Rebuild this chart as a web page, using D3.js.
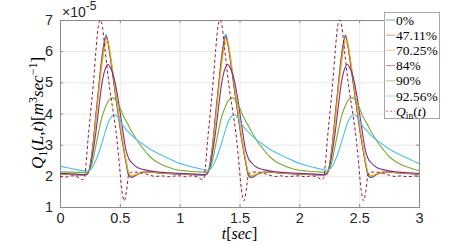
<!DOCTYPE html>
<html>
<head>
<meta charset="utf-8">
<script src="https://cdn.jsdelivr.net/npm/d3@7"></script>
<style>
  body { margin: 0; background: #fff; }
  svg { display: block; }
</style>
</head>
<body>
<div id="chart"></div>
<script>
// flow values are in units of 1e-5 m^3/s (the axis multiplier)
// time points shared by the six solid curves
var tSolid = [0,0.05,0.1,0.15,0.2,0.225,0.25,0.275,0.3,0.325,0.35,0.385,0.4,0.42,0.44,0.46,0.48,0.5,0.525,0.55,0.575,0.6,0.65,0.7,0.75,0.8,0.85,0.9,0.95,
  1,1.05,1.1,1.15,1.2,1.225,1.25,1.275,1.3,1.325,1.35,1.385,1.4,1.42,1.44,1.46,1.48,1.5,1.525,1.55,1.575,1.6,1.65,1.7,1.75,1.8,1.85,1.9,1.95,
  2,2.05,2.1,2.15,2.2,2.225,2.25,2.275,2.3,2.325,2.35,2.385,2.4,2.42,2.44,2.46,2.48,2.5,2.525,2.55,2.575,2.6,2.65,2.7,2.75,2.8,2.85,2.9,2.95,
  3];

var q0 = [2.06,2.05,2.04,2.03,2.03,2.04,2.3,3.0,3.96,4.9,5.8,6.52,6.3,5.8,5.25,4.7,4.15,3.6,3.0,2.45,2.0,1.95,2.05,2.12,2.12,2.1,2.08,2.07,2.06,
  2.05,2.05,2.04,2.03,2.03,2.04,2.3,3.0,3.96,4.9,5.8,6.53,6.3,5.8,5.25,4.7,4.15,3.6,3.0,2.45,2.0,1.94,2.05,2.12,2.12,2.1,2.08,2.07,2.06,
  2.05,2.05,2.04,2.03,2.03,2.04,2.3,3.0,3.96,4.9,5.8,6.52,6.3,5.8,5.25,4.7,4.15,3.6,3.0,2.45,2.0,1.94,2.05,2.12,2.12,2.1,2.08,2.07,2.06,
  2.05];

var q47 = [2.07,2.06,2.05,2.04,2.04,2.05,2.28,2.95,3.9,4.85,5.72,6.45,6.3,5.85,5.3,4.75,4.2,3.65,3.05,2.5,2.05,1.97,2.06,2.12,2.13,2.11,2.09,2.08,2.07,
  2.06,2.06,2.05,2.04,2.04,2.05,2.28,2.95,3.9,4.85,5.72,6.45,6.3,5.85,5.3,4.75,4.2,3.65,3.05,2.5,2.05,1.96,2.06,2.12,2.13,2.11,2.09,2.08,2.07,
  2.06,2.06,2.05,2.04,2.04,2.05,2.28,2.95,3.9,4.85,5.72,6.45,6.3,5.85,5.3,4.75,4.2,3.65,3.05,2.5,2.05,1.96,2.06,2.12,2.13,2.11,2.09,2.08,2.07,
  2.06];

var q70 = [2.07,2.06,2.05,2.05,2.04,2.05,2.25,2.85,3.75,4.7,5.55,6.3,6.33,5.95,5.4,4.85,4.3,3.75,3.12,2.55,2.1,2.0,2.07,2.12,2.13,2.11,2.09,2.08,2.07,
  2.07,2.06,2.05,2.05,2.04,2.05,2.25,2.85,3.75,4.7,5.55,6.3,6.33,5.95,5.4,4.85,4.3,3.75,3.12,2.55,2.1,2.0,2.07,2.12,2.13,2.11,2.09,2.08,2.07,
  2.07,2.06,2.05,2.05,2.04,2.05,2.25,2.85,3.75,4.7,5.55,6.3,6.33,5.95,5.4,4.85,4.3,3.75,3.12,2.55,2.1,2.0,2.07,2.12,2.13,2.11,2.09,2.08,2.07,
  2.07];

var q84 = [2.08,2.07,2.06,2.05,2.04,2.06,2.25,2.75,3.4,4.2,4.95,5.5,5.58,5.48,5.3,5.0,4.6,4.1,3.45,2.85,2.55,2.42,2.26,2.2,2.16,2.13,2.11,2.1,2.09,
  2.08,2.07,2.06,2.05,2.04,2.06,2.25,2.75,3.4,4.2,4.95,5.5,5.58,5.48,5.3,5.0,4.6,4.1,3.45,2.85,2.55,2.42,2.26,2.2,2.16,2.13,2.11,2.1,2.09,
  2.08,2.07,2.06,2.05,2.04,2.06,2.25,2.75,3.4,4.2,4.95,5.5,5.58,5.48,5.3,5.0,4.6,4.1,3.45,2.85,2.55,2.42,2.26,2.2,2.16,2.13,2.11,2.1,2.09,
  2.08];

var q90 = [2.12,2.12,2.12,2.11,2.11,2.11,2.2,2.5,2.97,3.45,3.88,4.25,4.38,4.47,4.5,4.46,4.35,4.2,3.96,3.77,3.6,3.42,3.1,2.85,2.62,2.47,2.36,2.28,2.22,
  2.18,2.16,2.14,2.13,2.12,2.12,2.2,2.5,2.97,3.45,3.88,4.25,4.38,4.47,4.5,4.46,4.35,4.2,3.96,3.77,3.6,3.42,3.1,2.85,2.62,2.47,2.36,2.28,2.22,
  2.18,2.16,2.14,2.13,2.12,2.12,2.2,2.5,2.97,3.45,3.88,4.25,4.38,4.47,4.5,4.46,4.35,4.2,3.96,3.77,3.6,3.42,3.1,2.85,2.62,2.47,2.36,2.28,2.22,
  2.17];

var q92 = [2.32,2.27,2.23,2.19,2.16,2.15,2.18,2.3,2.5,2.75,3.05,3.5,3.68,3.84,3.93,3.96,3.9,3.78,3.62,3.5,3.4,3.3,3.13,3.0,2.86,2.76,2.66,2.57,2.48,
  2.4,2.34,2.29,2.24,2.2,2.18,2.2,2.3,2.5,2.75,3.05,3.5,3.68,3.84,3.93,3.96,3.9,3.78,3.62,3.5,3.4,3.3,3.13,3.0,2.86,2.76,2.66,2.57,2.48,
  2.4,2.34,2.29,2.24,2.2,2.18,2.2,2.3,2.5,2.75,3.05,3.5,3.68,3.84,3.93,3.96,3.9,3.78,3.62,3.5,3.4,3.3,3.13,3.0,2.86,2.76,2.66,2.57,2.48,
  2.39];

// inlet flow Q_in(t), own time points (sharper pulse)
var tIn = [0,0.05,0.1,0.15,0.19,0.205,0.217,0.235,0.254,0.28,0.3,0.32,0.337,0.355,0.378,0.407,0.448,0.475,0.496,0.515,0.537,0.555,0.574,0.6,0.65,0.7,0.75,0.8,0.85,0.9,0.95,
  1,1.05,1.1,1.15,1.19,1.205,1.217,1.235,1.254,1.28,1.3,1.32,1.337,1.355,1.378,1.407,1.448,1.475,1.496,1.515,1.537,1.555,1.574,1.6,1.65,1.7,1.75,1.8,1.85,1.9,1.95,
  2,2.05,2.1,2.15,2.19,2.205,2.217,2.235,2.254,2.28,2.3,2.32,2.337,2.355,2.378,2.407,2.448,2.475,2.496,2.515,2.537,2.555,2.574,2.6,2.65,2.7,2.75,2.8,2.85,2.9,2.95,
  3];
var qIn = [1.98,1.96,2.0,1.96,1.88,1.95,2.36,3.2,3.96,5.03,6.0,6.8,7.0,6.78,6.0,5.03,3.96,3.2,2.36,1.6,1.2,1.5,2.03,2.12,2.12,2.08,2.02,1.98,2.0,1.97,1.99,
  2.0,1.97,2.0,1.96,1.88,1.95,2.36,3.2,3.96,5.03,6.0,6.8,7.0,6.78,6.0,5.03,3.96,3.2,2.36,1.6,1.2,1.5,2.03,2.12,2.12,2.08,2.02,1.98,2.0,1.97,1.99,
  2.0,1.97,2.0,1.96,1.88,1.95,2.36,3.2,3.96,5.03,6.0,6.8,7.0,6.78,6.0,5.03,3.96,3.2,2.36,1.6,1.2,1.5,2.03,2.12,2.12,2.08,2.02,1.98,2.0,1.97,1.99,
  2.0];

var xTicks = [0, 0.5, 1, 1.5, 2, 2.5, 3];
var xTickLabels = ["0", "0.5", "1", "1.5", "2", "2.5", "3"];
var yTicks = [1, 2, 3, 4, 5, 6, 7];
var yTickLabels = ["1", "2", "3", "4", "5", "6", "7"];
var seriesLabels = ["0%", "47.11%", "70.25%", "84%", "90%", "92.56%"];
var seriesColors = ["#0072BD", "#D95319", "#EDB120", "#7E2F8E", "#77AC30", "#4DBEEE"];
var inColor = "#A2142F";

var svgW = 463, svgH = 245;
var pLeft = 60, pRight = 419, pTop = 20, pBottom = 207;

var svg = d3.select("#chart").append("svg")
    .attr("width", svgW)
    .attr("height", svgH)
    .style("font-family", "'Liberation Sans', Arial, sans-serif");

var x = d3.scaleLinear().domain([0, 3]).range([pLeft, pRight]);
var y = d3.scaleLinear().domain([1, 7]).range([pBottom, pTop]);

// grid
var grid = svg.append("g").attr("stroke", "#e9e9e9").attr("stroke-width", 1);
grid.selectAll(".gx").data(xTicks).enter().append("line")
    .attr("x1", function(d) { return x(d) + 0.5; })
    .attr("x2", function(d) { return x(d) + 0.5; })
    .attr("y1", pTop).attr("y2", pBottom);
grid.selectAll(".gy").data(yTicks).enter().append("line")
    .attr("y1", function(d) { return y(d) + 0.5; })
    .attr("y2", function(d) { return y(d) + 0.5; })
    .attr("x1", pLeft).attr("x2", pRight);

// axes (ticks pointing inward, MATLAB style)
var xAxis = svg.append("g").attr("transform", "translate(0," + pBottom + ")")
    .call(d3.axisBottom(x).tickValues(xTicks).tickSizeInner(-3).tickSizeOuter(0).tickPadding(6)
      .tickFormat(function(d, i) { return xTickLabels[i]; }));
var yAxis = svg.append("g").attr("transform", "translate(" + pLeft + ",0)")
    .call(d3.axisLeft(y).tickValues(yTicks).tickSizeInner(-3).tickSizeOuter(0).tickPadding(7)
      .tickFormat(function(d, i) { return yTickLabels[i]; }));
var xTop = svg.append("g").attr("transform", "translate(0," + pTop + ")")
    .call(d3.axisTop(x).tickValues(xTicks).tickSizeInner(-3).tickSizeOuter(0).tickFormat(""));
var yRight = svg.append("g").attr("transform", "translate(" + pRight + ",0)")
    .call(d3.axisRight(y).tickValues(yTicks).tickSizeInner(-3).tickSizeOuter(0).tickFormat(""));

[xAxis, yAxis, xTop, yRight].forEach(function(g) {
  g.select(".domain").remove();
  g.selectAll(".tick line").attr("stroke", "#8a8a8a");
  g.selectAll(".tick text").attr("fill", "#262626").style("font-size", "14.5px")
    .style("font-family", "'Liberation Sans', Arial, sans-serif");
});

svg.append("rect")
    .attr("x", pLeft + 0.5).attr("y", pTop + 0.5)
    .attr("width", pRight - pLeft).attr("height", pBottom - pTop)
    .attr("fill", "none").attr("stroke", "#8a8a8a");

// multiplier
var mult = svg.append("text").attr("x", 62).attr("y", 17)
    .attr("fill", "#262626").style("font-size", "14px");
mult.append("tspan").text("\u00d710");
mult.append("tspan").attr("dy", -7).style("font-size", "12px").text("-5");

// curves
svg.append("clipPath").attr("id", "clip").append("rect")
    .attr("x", pLeft).attr("y", pTop - 2).attr("width", pRight - pLeft + 1).attr("height", pBottom - pTop + 4);

var plot = svg.append("g").attr("clip-path", "url(#clip)");
var line = d3.line()
    .x(function(d) { return x(d[0]); })
    .y(function(d) { return y(d[1]); })
    .curve(d3.curveMonotoneX);

var solidSeries = [q0, q47, q70, q84, q90, q92];
solidSeries.forEach(function(vals, k) {
  plot.append("path")
      .datum(tSolid.map(function(t, i) { return [t, vals[i]]; }))
      .attr("fill", "none")
      .attr("stroke", seriesColors[k])
      .attr("stroke-width", 1.1)
      .attr("d", line);
});
plot.append("path")
    .datum(tIn.map(function(t, i) { return [t, qIn[i]]; }))
    .attr("fill", "none")
    .attr("stroke", inColor)
    .attr("stroke-width", 1)
    .attr("stroke-dasharray", "3,2.5")
    .attr("d", line);

// axis labels
var serif = "'Liberation Serif', 'Times New Roman', serif";
var xl = svg.append("text").attr("x", 239.5).attr("y", 239)
    .attr("text-anchor", "middle").attr("fill", "#000")
    .style("font-family", serif).style("font-size", "16px");
xl.append("tspan").style("font-style", "italic").text("t");
xl.append("tspan").text("[");
xl.append("tspan").style("font-style", "italic").text("sec");
xl.append("tspan").text("]");

var yl = svg.append("text").attr("transform", "translate(43,113) rotate(-90)")
    .attr("text-anchor", "middle").attr("fill", "#000")
    .style("font-family", serif).style("font-size", "17px");
yl.append("tspan").style("font-style", "italic").text("Q");
yl.append("tspan").attr("dy", 4).style("font-size", "12px").text("1");
yl.append("tspan").attr("dy", -4).text("(");
yl.append("tspan").style("font-style", "italic").text("L");
yl.append("tspan").text(",");
yl.append("tspan").style("font-style", "italic").text("t");
yl.append("tspan").text(")[");
yl.append("tspan").style("font-style", "italic").text("m");
yl.append("tspan").attr("dy", -6).style("font-size", "12px").text("3");
yl.append("tspan").attr("dy", 6).style("font-style", "italic").text("sec");
yl.append("tspan").attr("dy", -6).style("font-size", "12px").text("\u22121");
yl.append("tspan").attr("dy", 6).text("]");

// legend
var lg = svg.append("g");
lg.append("rect").attr("x", 384.5).attr("y", 12.5).attr("width", 55).attr("height", 106)
    .attr("fill", "#fff").attr("stroke", "#a8a8a8");
var rowY = function(i) { return 20 + i * 15.2; };
seriesLabels.forEach(function(lab, i) {
  lg.append("line").attr("x1", 386).attr("x2", 395)
      .attr("y1", rowY(i)).attr("y2", rowY(i))
      .attr("stroke", seriesColors[i]).attr("stroke-width", 1).attr("stroke-opacity", 0.6);
  lg.append("text").attr("x", 396).attr("y", rowY(i) + 4.6)
      .style("font-family", serif).style("font-size", "13.5px").attr("fill", "#000")
      .text(lab);
});
lg.append("line").attr("x1", 386).attr("x2", 395)
    .attr("y1", rowY(6)).attr("y2", rowY(6))
    .attr("stroke", inColor).attr("stroke-width", 1).attr("stroke-opacity", 0.6)
    .attr("stroke-dasharray", "2,2");
var qt = lg.append("text").attr("x", 396).attr("y", rowY(6) + 4.6)
    .style("font-family", serif).style("font-size", "13.5px").attr("fill", "#000");
qt.append("tspan").style("font-style", "italic").text("Q");
qt.append("tspan").attr("dy", 3).style("font-size", "9.5px").text("in");
qt.append("tspan").attr("dy", -3).text("(");
qt.append("tspan").style("font-style", "italic").text("t");
qt.append("tspan").text(")");
</script>
</body>
</html>
